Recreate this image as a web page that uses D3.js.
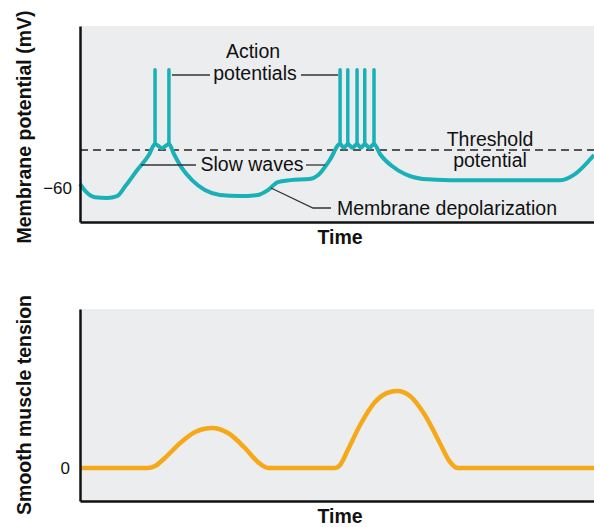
<!DOCTYPE html>
<html>
<head>
<meta charset="utf-8">
<script src="https://cdn.jsdelivr.net/npm/d3@7"></script>
<style>
  body { margin: 0; background: #fff; }
  svg text { font-family: "Liberation Sans", Arial, sans-serif; fill: #111; }
</style>
</head>
<body>
<div id="viz"></div>
<script>
// time in arbitrary units (0..100), membrane potential in mV
var slowT = [0, 1.2, 2.9, 5.3, 7.2, 8.8, 11.1, 13.4, 14.6, 15.95, 17.3, 18.3, 19.8, 21.8, 24.3, 27.2, 31.1, 34.6, 36.6, 38.5, 40.9, 44.7, 46.3, 48.6,
             50.6, 51.35, 52.1, 53.0, 53.9, 54.65, 55.4, 56.3, 57.2, 58.4, 60.7, 63.2, 66.7, 72, 93.4, 96.3, 100];
var slowV = [-58.9, -61.0, -62.4, -62.6, -62.1, -59.5, -55.3, -51.3, -48.4, -49.5, -48.4, -51.1, -54.7, -57.9, -60.5, -61.8, -62.1, -61.8, -60.5, -58.4, -57.9, -57.6, -56.6, -52.6,
             -48.4, -49.4, -48.4, -49.4, -48.4, -49.4, -48.4, -49.4, -48.4, -51.1, -54.2, -56.3, -57.6, -57.9, -57.9, -56.3, -51.3];
var spikeTimes = [14.6, 17.3, 50.6, 52.1, 53.9, 55.4, 57.2];
var spikeBase = -48.4;
var spikePeak = -28.9;
var threshold = -50;
var restTick = [-60];

// smooth muscle tension (arbitrary units)
var tensionT = [0, 13.2, 14.6, 16.5, 19.5, 22.4, 25.7, 28.8, 32.1, 34.6, 36.6, 49.6, 50.6, 52.1, 54.5, 57.4, 60.3, 61.7, 64.2, 67.1, 70.0, 72.0, 73.5, 100];
var tensionV = [0, 0, 0.2, 1.0, 2.5, 3.6, 4.0, 3.5, 2.0, 0.6, 0, 0, 0.3, 1.8, 4.3, 6.6, 7.6, 7.7, 7.2, 5.3, 2.5, 0.6, 0, 0];
var tensionTick = [0];

var teal = "#19b0b7", orange = "#f6a918", panel = "#ecedef";

var svg = d3.select("#viz").append("svg")
    .attr("width", 594).attr("height", 527);

var x = d3.scaleLinear().domain([0, 100]).range([80, 594]);
var yV = d3.scaleLinear().domain([-68.9, -17.4]).range([222, 26]);
var yT = d3.scaleLinear().domain([-3.3, 15.9]).range([501, 309]);

// ---------- top panel ----------
svg.append("rect").attr("x", 80).attr("y", 26).attr("width", 514).attr("height", 196).attr("fill", panel);

svg.append("line")
    .attr("x1", x(0)).attr("x2", x(100))
    .attr("y1", yV(threshold)).attr("y2", yV(threshold))
    .attr("stroke", "#222").attr("stroke-width", 1.4).attr("stroke-dasharray", "8,5");

var slowLine = d3.line()
    .x(function (d, i) { return x(slowT[i]); })
    .y(function (d) { return yV(d); })
    .curve(d3.curveMonotoneX);

svg.append("path").datum(slowV)
    .attr("d", slowLine)
    .attr("fill", "none").attr("stroke", teal).attr("stroke-width", 4)
    .attr("stroke-linejoin", "round");

svg.selectAll(".spike").data(spikeTimes).enter().append("line")
    .attr("class", "spike")
    .attr("x1", function (d) { return x(d); }).attr("x2", function (d) { return x(d); })
    .attr("y1", yV(spikeBase)).attr("y2", yV(spikePeak))
    .attr("stroke", teal).attr("stroke-width", 3.5).attr("stroke-linecap", "round");

var axV = svg.append("g").attr("transform", "translate(80,0)")
    .call(d3.axisLeft(yV).tickValues(restTick).tickSize(0).tickSizeOuter(0).tickPadding(8));
axV.select(".domain").attr("stroke", "#111").attr("stroke-width", 2.5);
axV.selectAll("text").style("font-size", "17px").style("font-family", "Liberation Sans, Arial, sans-serif").attr("fill", "#111");

var axVx = svg.append("g").attr("transform", "translate(0,222)")
    .call(d3.axisBottom(x).tickValues([]).tickSizeOuter(0));
axVx.select(".domain").attr("stroke", "#111").attr("stroke-width", 2.5);

// annotations
var lead = function (pts) {
  svg.append("path").attr("d", d3.line()(pts))
     .attr("fill", "none").attr("stroke", "#333").attr("stroke-width", 1.3);
};
var lab = function (tx, px, py, anchor) {
  svg.append("text").attr("x", px).attr("y", py).attr("text-anchor", anchor || "middle")
     .style("font-size", "19.5px").text(tx);
};

lab("Action", 253, 58);
lab("potentials", 255, 80);
lead([[x(17.3) + 3, 75], [210, 75]]);
lead([[301, 75], [x(50.6) - 2, 75]]);

lab("Slow waves", 252, 171);
lead([[x(11.9), 165], [196, 165]]);
lead([[306, 165], [x(47.3) + 2, 165]]);

lab("Membrane depolarization", 337, 215, "start");
lead([[271, 188], [313, 208], [331, 208]]);

lab("Threshold", 490, 146);
lab("potential", 490, 167);

svg.append("text").attr("x", 340).attr("y", 244).attr("text-anchor", "middle")
    .style("font-size", "19.5px").style("font-weight", "bold").text("Time");
svg.append("text").attr("transform", "translate(31,127) rotate(-90)").attr("text-anchor", "middle")
    .style("font-size", "19.5px").style("font-weight", "bold").text("Membrane potential (mV)");

// ---------- bottom panel ----------
svg.append("rect").attr("x", 80).attr("y", 309).attr("width", 514).attr("height", 192).attr("fill", panel);

var tensionLine = d3.line()
    .x(function (d, i) { return x(tensionT[i]); })
    .y(function (d) { return yT(d); })
    .curve(d3.curveMonotoneX);

svg.append("path").datum(tensionV)
    .attr("d", tensionLine)
    .attr("fill", "none").attr("stroke", orange).attr("stroke-width", 4.5)
    .attr("stroke-linejoin", "round");

var axT = svg.append("g").attr("transform", "translate(80,0)")
    .call(d3.axisLeft(yT).tickValues(tensionTick).tickSize(0).tickSizeOuter(0).tickPadding(10));
axT.select(".domain").attr("stroke", "#111").attr("stroke-width", 2.5);
axT.selectAll("text").style("font-size", "17px").style("font-family", "Liberation Sans, Arial, sans-serif").attr("fill", "#111");

var axTx = svg.append("g").attr("transform", "translate(0,501)")
    .call(d3.axisBottom(x).tickValues([]).tickSizeOuter(0));
axTx.select(".domain").attr("stroke", "#111").attr("stroke-width", 2.5);

svg.append("text").attr("x", 340).attr("y", 523).attr("text-anchor", "middle")
    .style("font-size", "19.5px").style("font-weight", "bold").text("Time");
svg.append("text").attr("transform", "translate(31,405) rotate(-90)").attr("text-anchor", "middle")
    .style("font-size", "19.5px").style("font-weight", "bold").text("Smooth muscle tension");
</script>
</body>
</html>
